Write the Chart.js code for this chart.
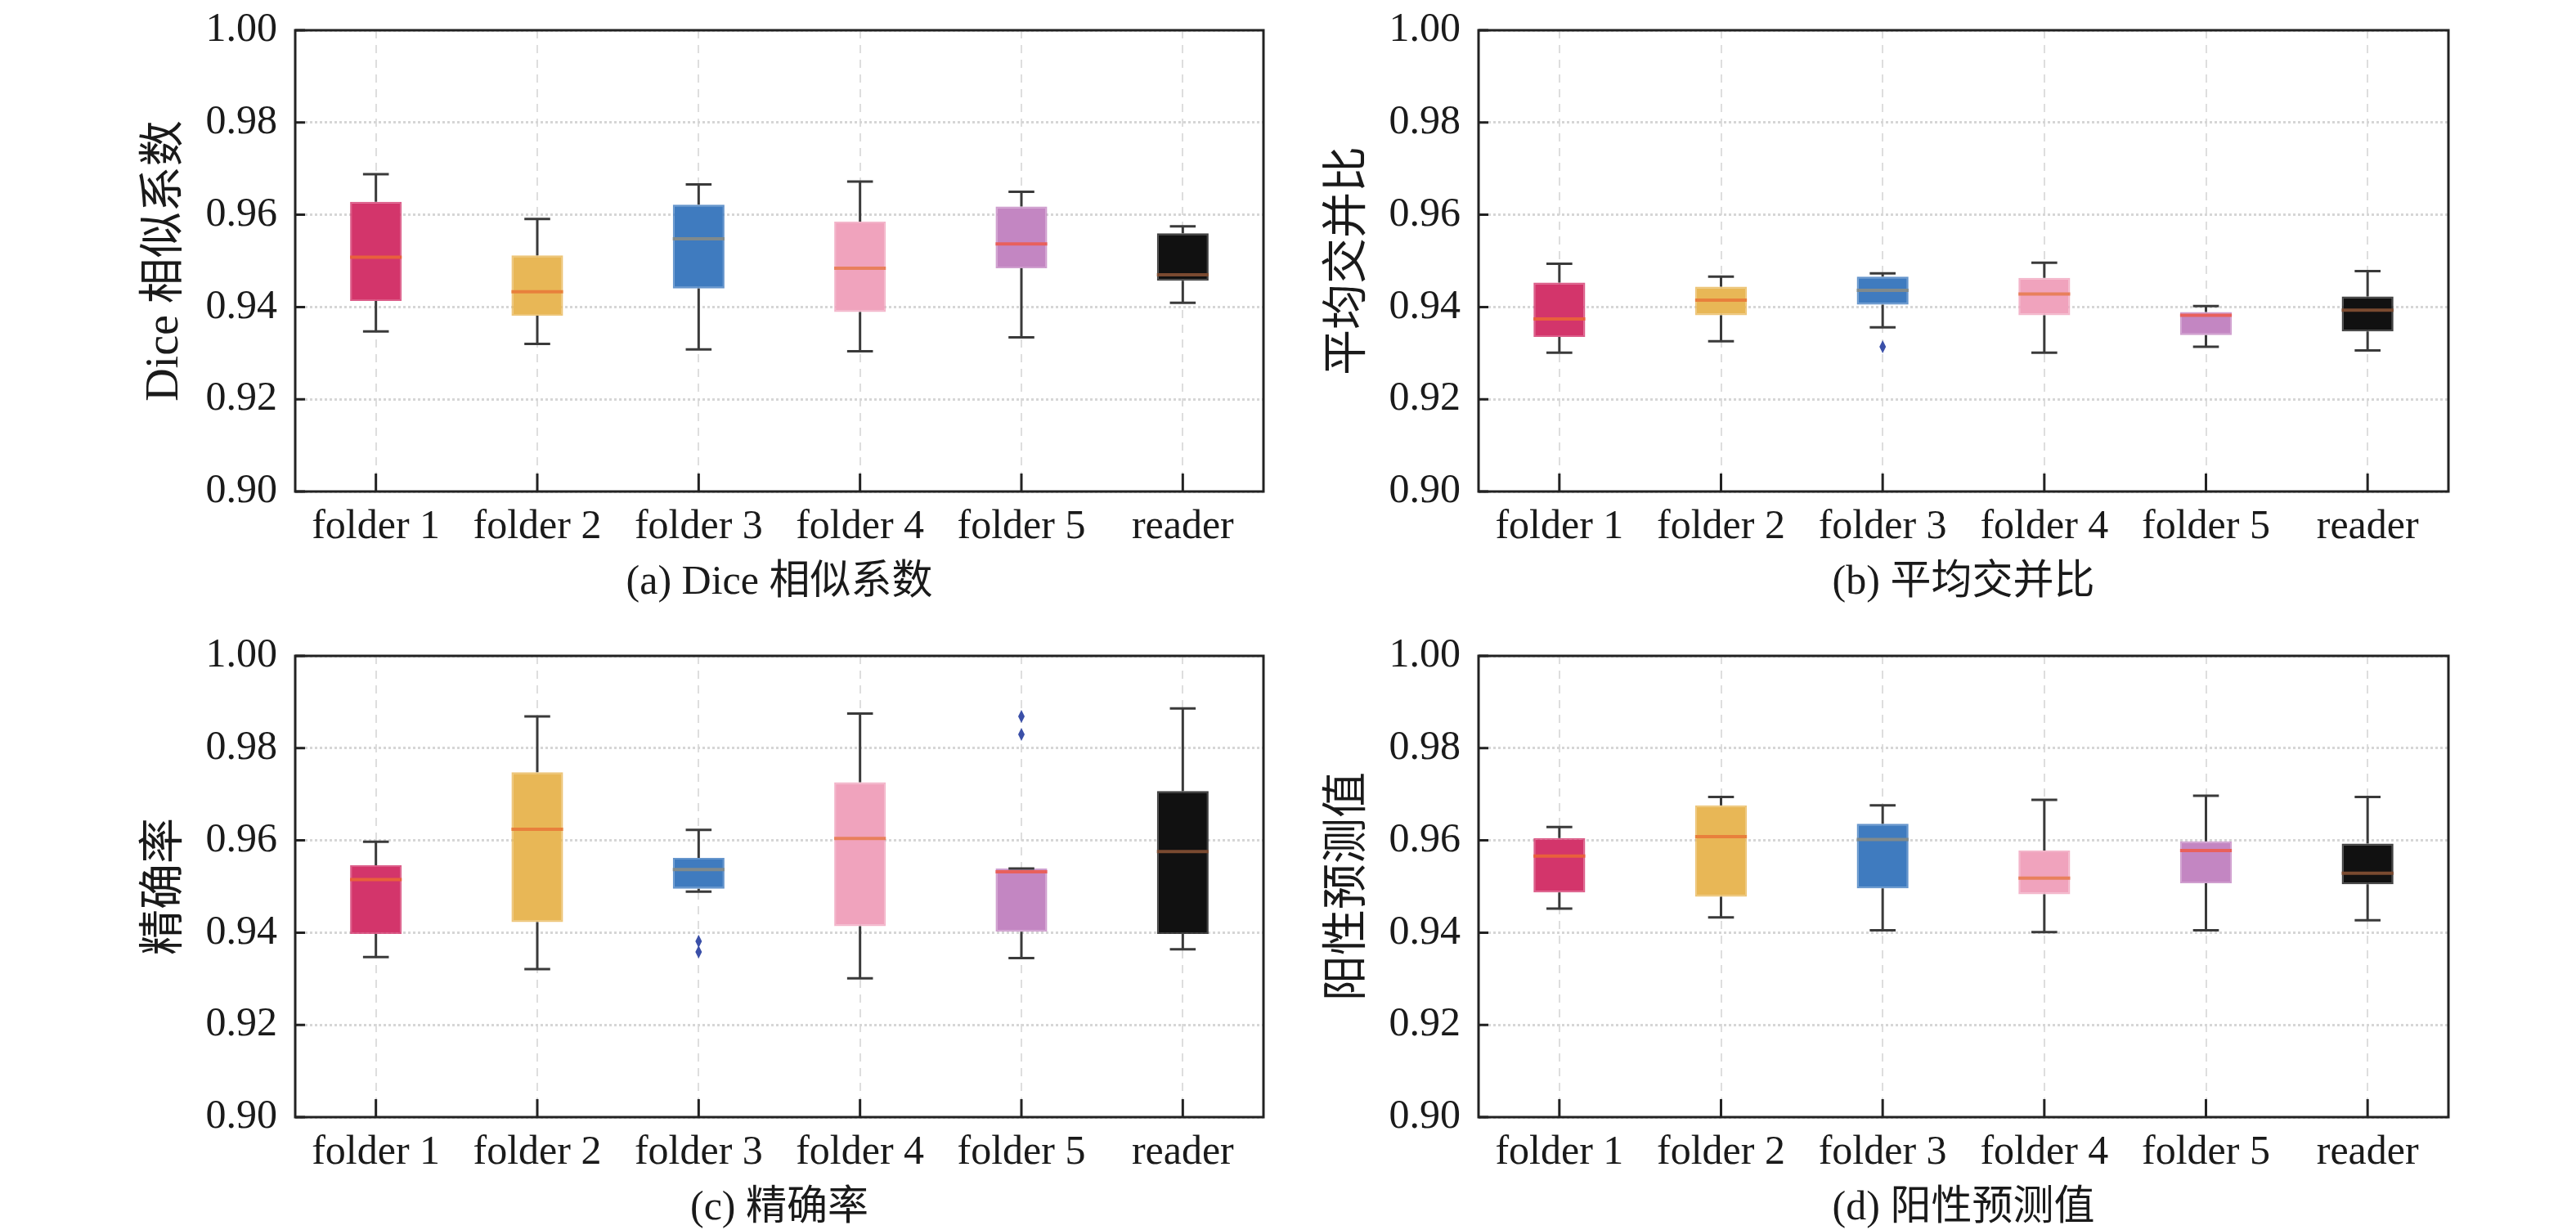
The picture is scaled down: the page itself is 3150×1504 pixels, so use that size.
<!DOCTYPE html>
<html>
<head>
<meta charset="utf-8">
<script src="https://cdn.jsdelivr.net/npm/chart.js@4"></script>
<style>
  body { margin: 0; background: #fff; width: 3150px; height: 1504px; position: relative; overflow: hidden; }
  .panel { position: absolute; width: 1575px; height: 762px; }
</style>
</head>
<body>
<div class="panel" style="left:0;top:-15px"><canvas id="chartA"></canvas></div>
<div class="panel" style="left:1575px;top:-15px"><canvas id="chartB"></canvas></div>
<div class="panel" style="left:0;top:750px"><canvas id="chartC"></canvas></div>
<div class="panel" style="left:1575px;top:750px"><canvas id="chartD"></canvas></div>
<script>
// ===== Box plot data: [low whisker, q1, median, q3, high whisker], outliers =====
const labels = ['folder 1', 'folder 2', 'folder 3', 'folder 4', 'folder 5', 'reader'];
const boxColors = ['#d3356b', '#e8b756', '#3f7bbf', '#f0a3bd', '#c386c2', '#111111'];
const medianColors = ['#e8603c', '#e8803c', '#808a8c', '#e8805c', '#e8605c', '#7a4a30'];

const panels = [
  {
    id: 'chartA', yTitle: 'Dice 相似系数', caption: '(a) Dice 相似系数', left: 165, yWidth: 196, right: 30,
    stats: [
      [0.9347, 0.9413, 0.9508, 0.9628, 0.9688],
      [0.9320, 0.9381, 0.9433, 0.9512, 0.9591],
      [0.9308, 0.9440, 0.9548, 0.9622, 0.9666],
      [0.9304, 0.9389, 0.9484, 0.9585, 0.9672],
      [0.9334, 0.9484, 0.9537, 0.9618, 0.9650],
      [0.9409, 0.9457, 0.9470, 0.9560, 0.9575]
    ],
    outliers: [[], [], [], [], [], []]
  },
  {
    id: 'chartB', yTitle: '平均交并比', caption: '(b) 平均交并比', left: 37, yWidth: 196, right: 156,
    stats: [
      [0.9301, 0.9335, 0.9374, 0.9453, 0.9494],
      [0.9326, 0.9382, 0.9415, 0.9444, 0.9466],
      [0.9356, 0.9405, 0.9436, 0.9466, 0.9473],
      [0.9301, 0.9382, 0.9428, 0.9463, 0.9496],
      [0.9314, 0.9339, 0.9382, 0.9389, 0.9402],
      [0.9306, 0.9347, 0.9393, 0.9423, 0.9478]
    ],
    outliers: [[], [], [0.9314], [], [], []]
  },
  {
    id: 'chartC', yTitle: '精确率', caption: '(c) 精确率', left: 165, yWidth: 196, right: 30,
    stats: [
      [0.9347, 0.9397, 0.9515, 0.9546, 0.9597],
      [0.9321, 0.9423, 0.9624, 0.9748, 0.9869],
      [0.9489, 0.9495, 0.9537, 0.9562, 0.9623],
      [0.9301, 0.9414, 0.9604, 0.9726, 0.9875],
      [0.9345, 0.9402, 0.9532, 0.9539, 0.9539],
      [0.9364, 0.9397, 0.9576, 0.9707, 0.9886]
    ],
    outliers: [[], [], [0.9381, 0.9358], [], [0.9869, 0.9830], []]
  },
  {
    id: 'chartD', yTitle: '阳性预测值', caption: '(d) 阳性预测值', left: 37, yWidth: 196, right: 156,
    stats: [
      [0.9452, 0.9487, 0.9566, 0.9605, 0.9629],
      [0.9433, 0.9478, 0.9608, 0.9676, 0.9694],
      [0.9405, 0.9496, 0.9602, 0.9636, 0.9676],
      [0.9401, 0.9483, 0.9518, 0.9578, 0.9688],
      [0.9405, 0.9507, 0.9578, 0.9598, 0.9697],
      [0.9427, 0.9505, 0.9529, 0.9593, 0.9694]
    ],
    outliers: [[], [], [], [], [], []]
  }
];

const serif = "'Liberation Serif', 'Noto Sans CJK SC', serif";

// ===== Plugin: whiskers, medians, outliers, frame, inward ticks =====
const boxPlugin = {
  id: 'boxExtras',
  afterDatasetsDraw(chart) {
    const p = chart.options.plugins.boxExtras;
    const ctx = chart.ctx;
    const x = chart.scales.x, y = chart.scales.y;
    const meta = chart.getDatasetMeta(0);
    ctx.save();
    p.stats.forEach((s, i) => {
      const bar = meta.data[i];
      const cx = bar.x, half = bar.width / 2;
      const [lo, q1, med, q3, hi] = s.map(v => y.getPixelForValue(v));
      // whiskers + caps
      ctx.strokeStyle = '#3a3a3a';
      ctx.lineWidth = 3;
      ctx.beginPath();
      ctx.moveTo(cx, q3); ctx.lineTo(cx, hi);
      ctx.moveTo(cx, q1); ctx.lineTo(cx, lo);
      ctx.moveTo(cx - half / 2, hi); ctx.lineTo(cx + half / 2, hi);
      ctx.moveTo(cx - half / 2, lo); ctx.lineTo(cx + half / 2, lo);
      ctx.stroke();
      // median
      ctx.strokeStyle = medianColors[i];
      ctx.lineWidth = 4;
      ctx.beginPath();
      ctx.moveTo(cx - half, med); ctx.lineTo(cx + half, med);
      ctx.stroke();
      // outliers
      ctx.fillStyle = '#3a4fa8';
      p.outliers[i].forEach(v => {
        const py = y.getPixelForValue(v);
        ctx.beginPath();
        ctx.moveTo(cx, py - 8); ctx.lineTo(cx + 4, py); ctx.lineTo(cx, py + 8); ctx.lineTo(cx - 4, py);
        ctx.closePath();
        ctx.fill();
      });
    });
    // frame
    const a = chart.chartArea;
    ctx.strokeStyle = '#222';
    ctx.lineWidth = 3;
    ctx.strokeRect(a.left, a.top, a.right - a.left, a.bottom - a.top);
    // inward ticks
    ctx.beginPath();
    y.ticks.forEach(t => {
      const py = y.getPixelForValue(t.value);
      ctx.moveTo(a.left, py); ctx.lineTo(a.left + 12, py);
    });
    labels.forEach((l, i) => {
      const px = x.getPixelForValue(i);
      ctx.moveTo(px, a.bottom); ctx.lineTo(px, a.bottom - 22);
    });
    ctx.stroke();
    ctx.restore();
  }
};

function makeChart(p) {
  return new Chart(document.getElementById(p.id), {
    type: 'bar',
    data: {
      labels: labels,
      datasets: [{
        data: p.stats.map(s => [s[1], s[3]]),
        backgroundColor: boxColors,
        borderColor: boxColors.map(c => c + 'cc'),
        borderWidth: 2,
        borderSkipped: false,
        barPercentage: 0.32,
        categoryPercentage: 1
      }]
    },
    options: {
      responsive: true,
      maintainAspectRatio: false,
      animation: false,
      layout: { padding: { left: p.left, right: p.right, top: 4, bottom: 0 } },
      plugins: { legend: { display: false }, tooltip: { enabled: false }, boxExtras: p },
      scales: {
        x: {
          grid: { offset: false, color: '#dedede', lineWidth: 2, drawTicks: false },
          border: { display: false, dash: [10, 8] },
          ticks: { color: '#1a1a1a', font: { family: serif, size: 50 }, padding: 14, maxRotation: 0 },
          title: { display: true, text: p.caption, color: '#1a1a1a', font: { family: serif, size: 50 }, padding: { top: 0 } },
          afterFit(scale) { scale.height = 146; }
        },
        y: {
          min: 0.9, max: 1.0,
          grid: { color: '#d6d6d6', lineWidth: 3, drawTicks: false },
          border: { display: false, dash: [3, 3] },
          ticks: { stepSize: 0.02, color: '#1a1a1a', font: { family: serif, size: 50 }, padding: 22,
                   callback: v => v.toFixed(2) },
          title: { display: true, text: p.yTitle, color: '#1a1a1a', font: { family: serif, size: 56 }, padding: { bottom: 4 } },
          afterFit(scale) { scale.width = p.yWidth; }
        }
      }
    },
    plugins: [boxPlugin]
  });
}

panels.forEach(p => makeChart(p));
</script>
</body>
</html>
